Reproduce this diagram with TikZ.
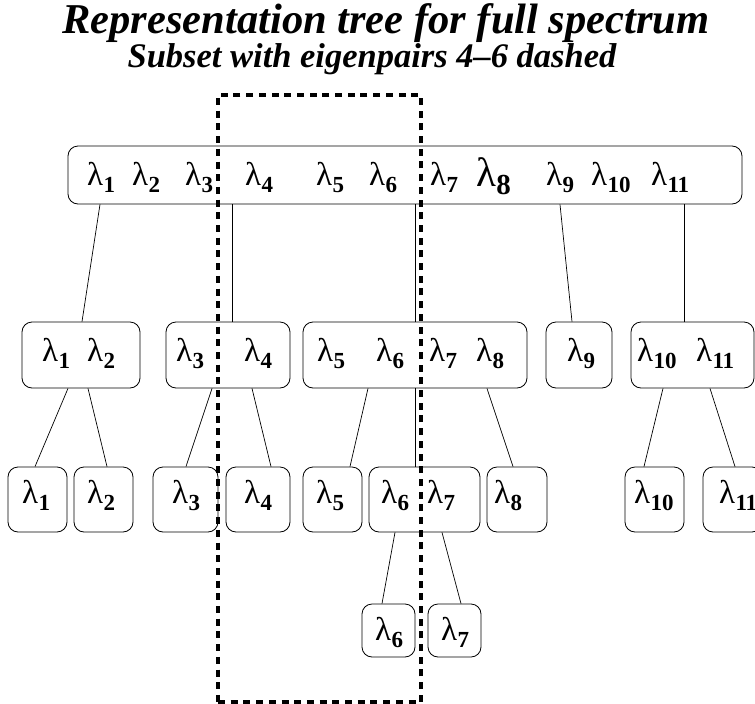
\documentclass[tikz,border=0pt]{standalone}
\usepackage{fontspec}
\setmainfont{Liberation Serif}
\newcommand\lm[2][23]{λ\kern0.3pt\raisebox{-7.5pt}{\fontsize{#1}{#1}\selectfont\bfseries #2}}
\tikzset{
  box/.style={draw, rounded corners=10pt, line width=0.8pt, inner sep=0pt},
  lab/.style={anchor=base west, inner sep=0pt, font=\fontsize{33}{33}\selectfont},
  edge/.style={line width=0.7pt},
  subset/.style={draw, line width=3.5pt, dash pattern=on 7pt off 5.7pt, inner sep=0pt},
  ttl/.style={anchor=base, inner sep=0pt, font=\bfseries\itshape\fontsize{42.5}{42.5}\selectfont},
  sttl/.style={anchor=base, inner sep=0pt, font=\bfseries\itshape\fontsize{34.5}{34.5}\selectfont}
}
\begin{document}
\begin{tikzpicture}[x=1pt,y=-1pt]
\useasboundingbox[fill=white] (0,0) rectangle (755,704);
% titles
\node[ttl] (title) at (386,33) {Representation tree for full spectrum};
\node[sttl] (subtitle) at (372,67) {Subset with eigenpairs 4–6 dashed};
% boxes
\node[box, minimum width=674, minimum height=58] (top) at (405,175) {};
\node[box, minimum width=118, minimum height=66] (a12) at (81,355) {};
\node[box, minimum width=124, minimum height=66] (a34) at (228,355) {};
\node[box, minimum width=224, minimum height=66] (a58) at (415,355) {};
\node[box, minimum width=66, minimum height=66] (a9) at (579,355) {};
\node[box, minimum width=123, minimum height=66] (a1011) at (692.5,355) {};
\node[box, minimum width=59, minimum height=65] (b1) at (37.5,499.5) {};
\node[box, minimum width=59, minimum height=65] (b2) at (103.5,499.5) {};
\node[box, minimum width=65, minimum height=65] (b3) at (185.5,499.5) {};
\node[box, minimum width=64, minimum height=65] (b4) at (258,499.5) {};
\node[box, minimum width=59, minimum height=65] (b5) at (332.5,499.5) {};
\node[box, minimum width=111, minimum height=65] (b67) at (424.5,499.5) {};
\node[box, minimum width=60, minimum height=65] (b8) at (517,499.5) {};
\node[box, minimum width=59, minimum height=65] (b10) at (654.5,499.5) {};
\node[box, minimum width=59, minimum height=65] (b11) at (732.5,499.5) {};
\node[box, minimum width=53, minimum height=53] (c6) at (388.5,630.5) {};
\node[box, minimum width=53, minimum height=53] (c7) at (454.5,630.5) {};
% labels top
\node[lab] (t1) at (87,185) {\lm{1}};
\node[lab] (t2) at (132,185) {\lm{2}};
\node[lab] (t3) at (185,185) {\lm{3}};
\node[lab] (t4) at (245,185) {\lm{4}};
\node[lab] (t5) at (316,185) {\lm{5}};
\node[lab] (t6) at (369,185) {\lm{6}};
\node[lab] (t7) at (430,185) {\lm{7}};
\node[lab, font=\fontsize{41}{41}\selectfont] (t8) at (476,186) {λ\kern0.3pt\raisebox{-8pt}{\fontsize{29}{29}\selectfont\bfseries 8}};
\node[lab] (t9) at (546,185) {\lm{9}};
\node[lab] (t10) at (591,185) {\lm{10}};
\node[lab] (t11) at (651,185) {\lm{11}};
% labels level 2
\node[lab] (u1) at (42,361) {\lm{1}};
\node[lab] (u2) at (87,361) {\lm{2}};
\node[lab] (u3) at (176,361) {\lm{3}};
\node[lab] (u4) at (244,361) {\lm{4}};
\node[lab] (u5) at (317,361) {\lm{5}};
\node[lab] (u6) at (376,361) {\lm{6}};
\node[lab] (u7) at (429,361) {\lm{7}};
\node[lab] (u8) at (476,361) {\lm{8}};
\node[lab] (u9) at (567,361) {\lm{9}};
\node[lab] (u10) at (637,361) {\lm{10}};
\node[lab] (u11) at (696,361) {\lm{11}};
% labels level 3
\node[lab] (v1) at (22,503) {\lm{1}};
\node[lab] (v2) at (87,503) {\lm{2}};
\node[lab] (v3) at (172,503) {\lm{3}};
\node[lab] (v4) at (244,503) {\lm{4}};
\node[lab] (v5) at (316,503) {\lm{5}};
\node[lab] (v6) at (381,503) {\lm{6}};
\node[lab] (v7) at (427,503) {\lm{7}};
\node[lab] (v8) at (494,503) {\lm{8}};
\node[lab] (v10) at (634,503) {\lm{10}};
\node[lab] (v11) at (719,503) {\lm{11}};
% labels level 4
\node[lab] (w6) at (375,640) {\lm{6}};
\node[lab] (w7) at (441,640) {\lm{7}};
% connectors
\draw[edge] (top.south -| 100,0) -- (a12.north -| 82,0);
\draw[edge] (top.south -| 232,0) -- (a34.north -| 232,0);
\draw[edge] (top.south -| 415,0) -- (a58.north -| 415,0);
\draw[edge] (top.south -| 560,0) -- (a9.north -| 572,0);
\draw[edge] (top.south -| 684,0) -- (a1011.north -| 684,0);
\draw[edge] (a12.south -| 68,0) -- (b1.north -| 35,0);
\draw[edge] (a12.south -| 88,0) -- (b2.north -| 107,0);
\draw[edge] (a34.south -| 212,0) -- (b3.north -| 186,0);
\draw[edge] (a34.south -| 252,0) -- (b4.north -| 271,0);
\draw[edge] (a58.south -| 368,0) -- (b5.north -| 350,0);
\draw[edge] (a58.south -| 415,0) -- (b67.north -| 415,0);
\draw[edge] (a58.south -| 487,0) -- (b8.north -| 513,0);
\draw[edge] (a1011.south -| 663,0) -- (b10.north -| 644,0);
\draw[edge] (a1011.south -| 710,0) -- (b11.north -| 735,0);
\draw[edge] (b67.south -| 395,0) -- (c6.north -| 382,0);
\draw[edge] (b67.south -| 442,0) -- (c7.north -| 461,0);
% dashed subset
\node[subset, minimum width=203, minimum height=607] (sub) at (319.5,398.5) {};
\end{tikzpicture}
\end{document}
